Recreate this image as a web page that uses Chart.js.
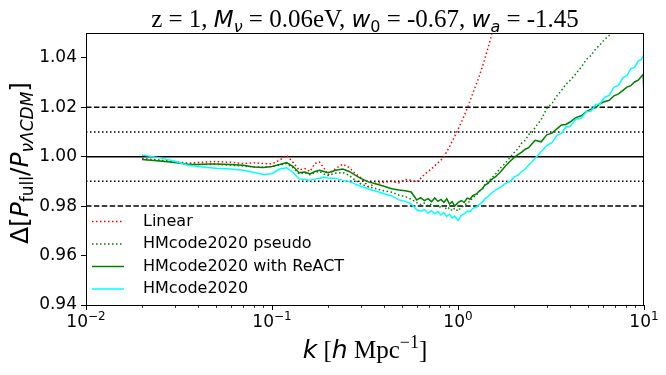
<!DOCTYPE html>
<html>
<head>
<meta charset="utf-8">
<script src="https://cdn.jsdelivr.net/npm/chart.js@4.4.1/dist/chart.umd.min.js"></script>
<style>
  html, body { margin: 0; padding: 0; background: #fff; }
  #chart { display: block; }
</style>
</head>
<body>
<canvas id="chart" width="666" height="375"></canvas>
<script>
// wavenumbers k [h/Mpc], shared by every curve
const K_VALUES = [0.02, 0.025, 0.03, 0.035, 0.04, 0.045, 0.05, 0.06, 0.07, 0.08, 0.09,
    0.1, 0.11, 0.12, 0.13, 0.14, 0.15, 0.16, 0.17, 0.18, 0.19, 0.2,
    0.22, 0.24, 0.26, 0.28, 0.3,
    0.33, 0.36, 0.4, 0.44, 0.48, 0.52, 0.56,
    0.6, 0.63, 0.66, 0.69, 0.72, 0.75, 0.78, 0.81, 0.84, 0.87, 0.9, 0.93, 0.96,
    1.0, 1.04, 1.08, 1.12, 1.16, 1.2, 1.25, 1.3, 1.35, 1.4, 1.45, 1.5,
    1.6, 1.7, 1.8, 1.9, 2.0, 2.1, 2.2, 2.3, 2.4, 2.5, 2.6,
    2.8, 3.0, 3.2, 3.4, 3.6, 3.8, 4.0, 4.3, 4.6, 4.9, 5.2, 5.5, 5.8, 6.1,
    6.5, 6.9, 7.3, 7.7, 8.1, 8.5, 8.9, 9.3, 9.7, 9.9, 10.0];

// ratio curves (values past the top of the axis are clipped)
const LINEAR = [0.9992, 0.9986, 0.9980, 0.9974, 0.9976, 0.9979, 0.9980, 0.9977, 0.9972, 0.9975, 0.9972,
    0.9971, 0.9986, 1.0005, 0.9976, 0.9946, 0.9952, 0.9940, 0.9972, 0.9978, 0.9955, 0.9926,
    0.9952, 0.9970, 0.9956, 0.9932, 0.9915,
    0.9878, 0.9892, 0.9896, 0.9900, 0.9894, 0.9908, 0.9904,
    0.9898, 0.9912, 0.9928, 0.9940, 0.9950, 0.9963, 0.9975, 0.9986, 1.0000, 1.0020, 1.0040, 1.0062, 1.0082,
    1.0110, 1.0138, 1.0166, 1.0195, 1.0225, 1.0255, 1.0290, 1.0325, 1.0362, 1.0400, 1.0440, 1.0480,
    1.0570];

const PSEUDO = [0.9990, 0.9984, 0.9978, 0.9971, 0.9968, 0.9968, 0.9969, 0.9965, 0.9962, 0.9958, 0.9957,
    0.9960, 0.9966, 0.9972, 0.9955, 0.9930, 0.9935, 0.9927, 0.9936, 0.9940, 0.9930, 0.9924,
    0.9933, 0.9936, 0.9924, 0.9905, 0.9890,
    0.9878, 0.9871, 0.9862, 0.9856, 0.9845, 0.9838, 0.9828,
    0.9814, 0.9806, 0.9812, 0.9800, 0.9809, 0.9797, 0.9805, 0.9793, 0.9801, 0.9786, 0.9794, 0.9781, 0.9792,
    0.9780, 0.9795, 0.9800, 0.9815, 0.9818, 0.9836, 0.9842, 0.9860, 0.9868, 0.9888, 0.9895, 0.9910,
    0.9932, 0.9956, 0.9974, 0.9996, 1.0016, 1.0032, 1.0055, 1.0066, 1.0090, 1.0098, 1.0118,
    1.0150, 1.0195, 1.0215, 1.0245, 1.0268, 1.0292, 1.0308, 1.0335, 1.0362, 1.0393, 1.0410, 1.0436, 1.0452, 1.0472,
    1.0490, 1.0513, 1.0530];

const REACT = [0.9988, 0.9982, 0.9976, 0.9969, 0.9968, 0.9970, 0.9970, 0.9968, 0.9965, 0.9958, 0.9956,
    0.9960, 0.9968, 0.9976, 0.9960, 0.9935, 0.9938, 0.9930, 0.9940, 0.9945, 0.9940, 0.9935,
    0.9945, 0.9950, 0.9940, 0.9925, 0.9912,
    0.9898, 0.9890, 0.9880, 0.9870, 0.9865, 0.9862, 0.9857,
    0.9825, 0.9834, 0.9822, 0.9830, 0.9818, 0.9833, 0.9819, 0.9827, 0.9815, 0.9830, 0.9808, 0.9818, 0.9800,
    0.9814, 0.9822, 0.9815, 0.9832, 0.9828, 0.9842, 0.9848, 0.9860, 0.9870, 0.9886, 0.9892, 0.9905,
    0.9920, 0.9940, 0.9962, 0.9980, 0.9996, 1.0008, 1.0018, 1.0030, 1.0036, 1.0052, 1.0066,
    1.0060, 1.0088, 1.0095, 1.0112, 1.0128, 1.0130, 1.0140, 1.0158, 1.0165, 1.0182, 1.0192, 1.0198, 1.0214, 1.0222,
    1.0228, 1.0246, 1.0254, 1.0268, 1.0281, 1.0287, 1.0302, 1.0309, 1.0325, 1.0332, 1.0240];

const HMCODE = [1.0007, 0.9995, 0.9981, 0.9966, 0.9960, 0.9956, 0.9953, 0.9950, 0.9945, 0.9936, 0.9928,
    0.9931, 0.9950, 0.9955, 0.9936, 0.9910, 0.9908, 0.9905, 0.9909, 0.9913, 0.9918, 0.9914,
    0.9912, 0.9904, 0.9899, 0.9889, 0.9880,
    0.9869, 0.9861, 0.9850, 0.9841, 0.9825, 0.9819, 0.9809,
    0.9785, 0.9779, 0.9786, 0.9772, 0.9781, 0.9769, 0.9778, 0.9764, 0.9774, 0.9758, 0.9767, 0.9752, 0.9760,
    0.9742, 0.9762, 0.9768, 0.9780, 0.9777, 0.9791, 0.9795, 0.9806, 0.9815, 0.9830, 0.9838, 0.9850,
    0.9866, 0.9878, 0.9892, 0.9899, 0.9917, 0.9925, 0.9940, 0.9950, 0.9966, 0.9978, 0.9994,
    1.0020, 1.0045, 1.0056, 1.0086, 1.0094, 1.0120, 1.0122, 1.0151, 1.0156, 1.0181, 1.0184, 1.0211, 1.0213, 1.0238,
    1.0249, 1.0280, 1.0289, 1.0320, 1.0328, 1.0356, 1.0361, 1.0386, 1.0393, 1.0408, 1.0412];

// horizontal guide levels
const DASHED_LEVELS = [1.02, 0.98];
const DOTTED_LEVELS = [1.01, 0.99];
const SOLID_LEVELS = [1.00];

const Y_TICKS = [0.94, 0.96, 0.98, 1.00, 1.02, 1.04];
const X_MAJOR = [0.01, 0.1, 1, 10];
const X_MINOR = [0.02, 0.03, 0.04, 0.05, 0.06, 0.07, 0.08, 0.09,
    0.2, 0.3, 0.4, 0.5, 0.6, 0.7, 0.8, 0.9,
    2, 3, 4, 5, 6, 7, 8, 9];

const DOT = [1.5, 2.5];
const DASH = [5.5, 2.4];

function toPoints(ys) {
    return ys.map((y, i) => ({ x: K_VALUES[i], y: y }));
}

function guide(level, dash) {
    return {
        data: [{ x: 0.01, y: level }, { x: 10, y: level }],
        borderColor: '#000', borderWidth: 1.5, borderDash: dash,
        order: 10
    };
}

const curves = [
    { label: 'Linear', data: toPoints(LINEAR), borderColor: '#ff0000', borderDash: DOT, order: 3 },
    { label: 'HMcode2020 pseudo', data: toPoints(PSEUDO), borderColor: '#008000', borderDash: DOT, order: 2 },
    { label: 'HMcode2020 with ReACT', data: toPoints(REACT), borderColor: '#008000', borderDash: [], order: 1 },
    { label: 'HMcode2020', data: toPoints(HMCODE), borderColor: '#00ffff', borderDash: [], order: 0 }
];
curves.forEach(c => { c.borderWidth = 1.5; });

const datasets = curves.concat(
    DASHED_LEVELS.map(l => guide(l, DASH)),
    DOTTED_LEVELS.map(l => guide(l, DOT)),
    SOLID_LEVELS.map(l => guide(l, []))
);

const SANS = '"DejaVu Sans", sans-serif';
const SERIF = '"Liberation Serif", "DejaVu Serif", serif';

// draw a line of text made of pieces with their own fonts and offsets
function richWidth(ctx, parts) {
    let w = 0;
    parts.forEach(p => { ctx.font = p.f; w += ctx.measureText(p.t).width; });
    return w;
}
function drawRich(ctx, parts, cx, baseline) {
    let x = cx - richWidth(ctx, parts) / 2;
    ctx.textAlign = 'left';
    ctx.textBaseline = 'alphabetic';
    parts.forEach(p => {
        ctx.font = p.f;
        ctx.fillText(p.t, x, baseline + (p.dy || 0));
        x += ctx.measureText(p.t).width;
    });
}

const decorations = {
    id: 'decorations',
    afterDraw(chart) {
        const ctx = chart.ctx;
        const area = chart.chartArea;
        const xs = chart.scales.x;
        ctx.save();
        ctx.fillStyle = '#000';
        ctx.strokeStyle = '#000';

        // frame
        ctx.lineWidth = 1;
        ctx.strokeRect(area.left + 0.5, area.top + 0.5, area.right - area.left - 1, area.bottom - area.top);

        // minor ticks on x
        ctx.lineWidth = 0.8;
        X_MINOR.forEach(v => {
            const px = Math.round(xs.getPixelForValue(v)) + 0.5;
            ctx.beginPath();
            ctx.moveTo(px, area.bottom);
            ctx.lineTo(px, area.bottom + 3);
            ctx.stroke();
        });

        // x tick labels 10^n
        X_MAJOR.forEach(v => {
            const px = xs.getPixelForValue(v);
            const exp = Math.round(Math.log10(v));
            const label = exp < 0 ? '\u2212' + (-exp) : String(exp);
            drawRich(ctx, [
                { t: '10', f: '17px ' + SANS },
                { t: label, f: '12px ' + SANS, dy: -7 }
            ], px, area.bottom + 22);
        });

        // title
        const IT = 'italic 23px ' + SANS;
        const RM = '25px ' + SERIF;
        const SUB = '16px ' + SANS;
        const SUBIT = 'italic 16px ' + SANS;
        drawRich(ctx, [
            { t: 'z = 1, ', f: RM },
            { t: 'M', f: IT }, { t: '\u03bd', f: SUBIT, dy: 5 },
            { t: ' = 0.06eV, ', f: RM },
            { t: 'w', f: IT }, { t: '0', f: SUB, dy: 5 },
            { t: ' = -0.67, ', f: RM },
            { t: 'w', f: IT }, { t: 'a', f: SUBIT, dy: 5 },
            { t: ' = -1.45', f: RM }
        ], (area.left + area.right) / 2, 27);

        // x axis label
        drawRich(ctx, [
            { t: 'k', f: 'italic 25px ' + SANS },
            { t: ' [', f: '25px ' + SERIF },
            { t: 'h', f: 'italic 25px ' + SANS },
            { t: ' Mpc', f: '25px ' + SERIF },
            { t: '\u22121', f: '18px ' + SERIF, dy: -10 },
            { t: ']', f: '25px ' + SERIF }
        ], (area.left + area.right) / 2, 358);

        // y axis label
        ctx.save();
        ctx.translate(28, (area.top + area.bottom) / 2 - 6);
        ctx.rotate(-Math.PI / 2);
        drawRich(ctx, [
            { t: '\u0394[', f: '25px ' + SANS },
            { t: 'P', f: 'italic 25px ' + SANS },
            { t: 'full', f: '17px ' + SANS, dy: 5 },
            { t: '/', f: '25px ' + SANS },
            { t: 'P', f: 'italic 25px ' + SANS },
            { t: '\u03bd\u039bCDM', f: 'italic 17px ' + SANS, dy: 5 },
            { t: ']', f: '25px ' + SANS }
        ], 0, 0);
        ctx.restore();

        // legend
        ctx.font = '16px ' + SANS;
        ctx.textBaseline = 'middle';
        curves.forEach((c, i) => {
            const y = area.bottom - 83.5 + i * 22.5;
            ctx.save();
            ctx.strokeStyle = c.borderColor;
            ctx.lineWidth = c.borderWidth;
            ctx.setLineDash(c.borderDash);
            ctx.beginPath();
            ctx.moveTo(area.left + 6, y);
            ctx.lineTo(area.left + 38, y);
            ctx.stroke();
            ctx.restore();
            ctx.fillText(c.label, area.left + 57, y);
        });
        ctx.restore();
    }
};

new Chart(document.getElementById('chart'), {
    type: 'scatter',
    data: { datasets: datasets },
    options: {
        responsive: false,
        animation: false,
        showLine: true,
        elements: { point: { radius: 0 }, line: { tension: 0 } },
        layout: { padding: { top: 33, right: 22, left: 0, bottom: 0 } },
        plugins: { legend: { display: false }, tooltip: { enabled: false } },
        scales: {
            x: {
                type: 'logarithmic', min: 0.01, max: 10,
                afterBuildTicks: s => { s.ticks = X_MAJOR.map(v => ({ value: v })); },
                afterFit: s => { s.height = 70; },
                ticks: { callback: () => '', autoSkip: false },
                grid: { drawOnChartArea: false, color: '#000', tickLength: 5, tickWidth: 1 },
                border: { color: '#000', width: 1 }
            },
            y: {
                min: 0.94, max: 1.05,
                afterBuildTicks: s => { s.ticks = Y_TICKS.map(v => ({ value: v })); },
                afterFit: s => { s.width = 86; },
                ticks: {
                    callback: v => v.toFixed(2), autoSkip: false, padding: 4,
                    color: '#000', font: { family: 'DejaVu Sans', size: 17 }
                },
                grid: { drawOnChartArea: false, color: '#000', tickLength: 5, tickWidth: 1 },
                border: { color: '#000', width: 1 }
            }
        }
    },
    plugins: [decorations]
});
</script>
</body>
</html>
